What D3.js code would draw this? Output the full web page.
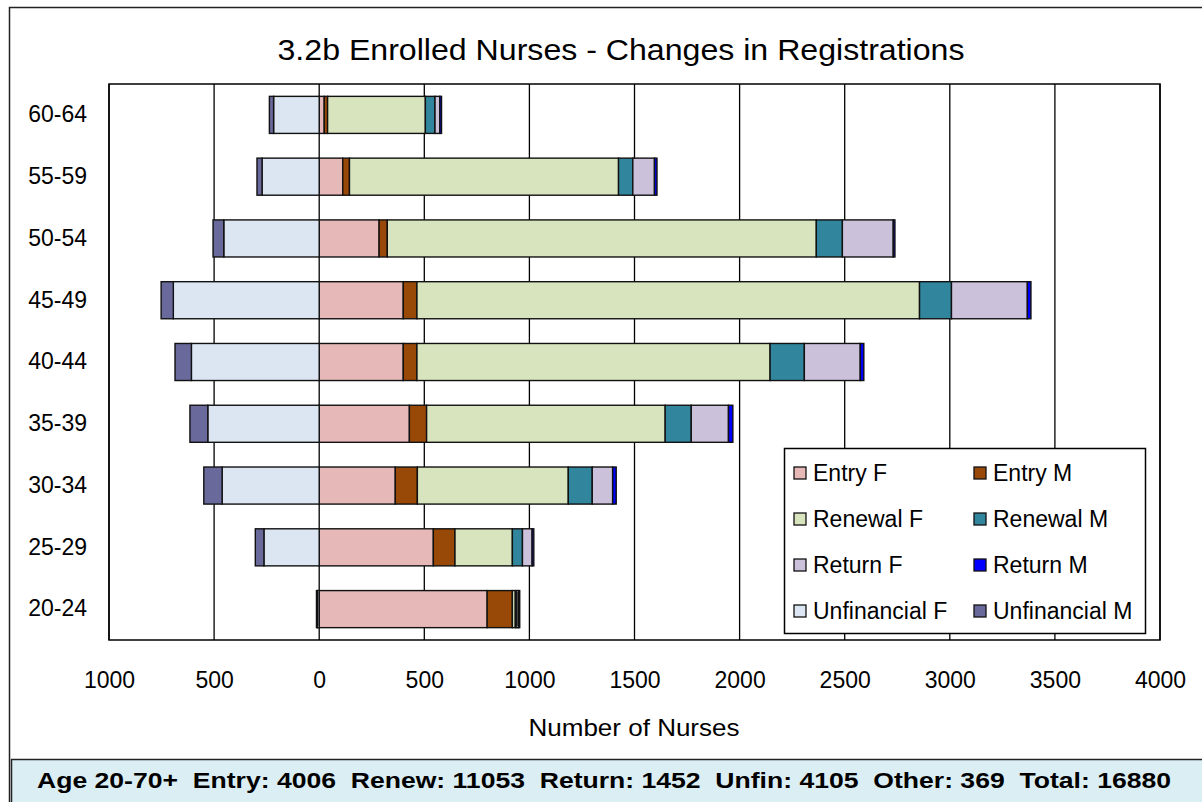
<!DOCTYPE html>
<html>
<head>
<meta charset="utf-8">
<script src="https://cdn.jsdelivr.net/npm/d3@7"></script>
<style>
  body { margin: 0; background: #fff; }
  svg { display: block; font-family: "Liberation Sans", Arial, sans-serif; }
</style>
</head>
<body>
<svg width="1202" height="802"></svg>
<script>
// Age groups, top to bottom as in the chart
var ageGroups = ['60-64', '55-59', '50-54', '45-49', '40-44', '35-39', '30-34', '25-29', '20-24'];

// Series values (number of nurses)
var entryF    = [24, 112, 285, 400, 400, 429, 362, 543, 799];
var entryM    = [16, 32, 39, 65, 65, 82, 105, 103, 120];
var renewalF  = [465, 1280, 2041, 2391, 1680, 1135, 718, 273, 14];
var renewalM  = [46, 68, 124, 152, 163, 124, 114, 48, 8];
var returnF   = [23, 103, 242, 361, 266, 177, 97, 46, 8];
var returnM   = [8, 12, 8, 17, 17, 21, 17, 8, 5];
var unfinF    = [217, 272, 454, 694, 608, 530, 462, 263, 8];   // drawn to the left
var unfinM    = [20, 24, 51, 58, 78, 85, 87, 41, 5];          // drawn to the left

var seriesNames = ['Entry F', 'Entry M', 'Renewal F', 'Renewal M', 'Return F', 'Return M', 'Unfinancial F', 'Unfinancial M'];
var seriesColors = ['#E6B9B8', '#984807', '#D7E4BD', '#31859C', '#CCC1DA', '#0000FF', '#DCE6F2', '#69699C'];

var xTicks = [-1000, -500, 0, 500, 1000, 1500, 2000, 2500, 3000, 3500, 4000];

var titleText = '3.2b Enrolled Nurses - Changes in Registrations';
var footerText = 'Age 20-70+  Entry: 4006  Renew: 11053  Return: 1452  Unfin: 4105  Other: 369  Total: 16880';

// build rows for the stack, unfinancial as negatives
var rows = ageGroups.map(function (g, i) {
  return {
    group: g,
    'Entry F': entryF[i], 'Entry M': entryM[i],
    'Renewal F': renewalF[i], 'Renewal M': renewalM[i],
    'Return F': returnF[i], 'Return M': returnM[i],
    'Unfinancial F': -unfinF[i], 'Unfinancial M': -unfinM[i]
  };
});

var svg = d3.select('svg');

// outer frame
svg.append('rect')
  .attr('x', 9.5).attr('y', 7.5)
  .attr('width', 1210).attr('height', 810)
  .attr('fill', '#fff').attr('stroke', '#222').attr('stroke-width', 1.5);

var plotLeft = 109, plotRight = 1160, plotTop = 84, plotBottom = 640;

var x = d3.scaleLinear().domain([-1000, 4000]).range([plotLeft, plotRight]);
var y = d3.scaleBand().domain(ageGroups).range([plotTop, plotBottom]).paddingInner(0.4).paddingOuter(0.2);
var color = d3.scaleOrdinal().domain(seriesNames).range(seriesColors);

// title
svg.append('text')
  .attr('x', 621).attr('y', 60)
  .attr('text-anchor', 'middle')
  .attr('font-size', 30)
  .attr('textLength', 687).attr('lengthAdjust', 'spacingAndGlyphs')
  .text(titleText);

// vertical gridlines
svg.append('g').selectAll('line')
  .data(xTicks)
  .join('line')
  .attr('x1', function (d) { return x(d); })
  .attr('x2', function (d) { return x(d); })
  .attr('y1', plotTop).attr('y2', plotBottom)
  .attr('stroke', '#000').attr('stroke-width', 1.3);

// stacked bars
var stacked = d3.stack().keys(seriesNames).offset(d3.stackOffsetDiverging)(rows);

svg.append('g').selectAll('g')
  .data(stacked)
  .join('g')
  .attr('fill', function (d) { return color(d.key); })
  .selectAll('rect')
  .data(function (d) { return d; })
  .join('rect')
  .attr('x', function (d) { return x(Math.min(d[0], d[1])); })
  .attr('width', function (d) { return Math.abs(x(d[1]) - x(d[0])); })
  .attr('y', function (d) { return y(d.data.group); })
  .attr('height', y.bandwidth())
  .attr('stroke', '#111').attr('stroke-width', 1.4);

// plot border
svg.append('rect')
  .attr('x', plotLeft).attr('y', plotTop)
  .attr('width', plotRight - plotLeft).attr('height', plotBottom - plotTop)
  .attr('fill', 'none').attr('stroke', '#000').attr('stroke-width', 1.5);

// x axis labels
var xAxis = d3.axisBottom(x).tickValues(xTicks)
  .tickFormat(function (d) { return Math.abs(d); })
  .tickSize(0).tickPadding(32);
var gx = svg.append('g').attr('transform', 'translate(0,' + plotBottom + ')').call(xAxis);
gx.select('.domain').remove();
gx.selectAll('text').attr('font-size', 23).attr('fill', '#000').style('font-family', 'Liberation Sans, Arial, sans-serif');

// y axis labels
var yAxis = d3.axisLeft(y).tickSize(0).tickPadding(22);
var gy = svg.append('g').attr('transform', 'translate(' + plotLeft + ',0)').call(yAxis);
gy.select('.domain').remove();
gy.selectAll('text').attr('font-size', 23).attr('fill', '#000').style('font-family', 'Liberation Sans, Arial, sans-serif');

// axis title
svg.append('text')
  .attr('x', 634).attr('y', 736)
  .attr('text-anchor', 'middle')
  .attr('font-size', 24)
  .attr('textLength', 211).attr('lengthAdjust', 'spacingAndGlyphs')
  .text('Number of Nurses');

// legend
var legend = svg.append('g');
legend.append('rect')
  .attr('x', 784.5).attr('y', 448.5)
  .attr('width', 361).attr('height', 185)
  .attr('fill', '#fff').attr('stroke', '#000').attr('stroke-width', 1.5);

var items = legend.selectAll('g.item')
  .data(seriesNames)
  .join('g')
  .attr('class', 'item')
  .attr('transform', function (d, i) {
    return 'translate(' + (i % 2 === 0 ? 794 : 974) + ',' + (473 + Math.floor(i / 2) * 46) + ')';
  });

items.append('rect')
  .attr('x', 0).attr('y', -6)
  .attr('width', 12).attr('height', 12)
  .attr('fill', function (d) { return color(d); })
  .attr('stroke', '#111').attr('stroke-width', 1.3);

items.append('text')
  .attr('x', 19).attr('dy', '0.36em')
  .attr('font-size', 23)
  .text(function (d) { return d; });

// footer summary box
svg.append('rect')
  .attr('x', 11.5).attr('y', 759.5)
  .attr('width', 1200).attr('height', 60)
  .attr('fill', '#DBEEF3').attr('stroke', '#222').attr('stroke-width', 1.5);

svg.append('text')
  .attr('x', 604).attr('y', 788)
  .attr('text-anchor', 'middle')
  .attr('font-size', 22).attr('font-weight', 'bold')
  .style('white-space', 'pre')
  .attr('textLength', 1134).attr('lengthAdjust', 'spacingAndGlyphs')
  .text(footerText);
</script>
</body>
</html>
